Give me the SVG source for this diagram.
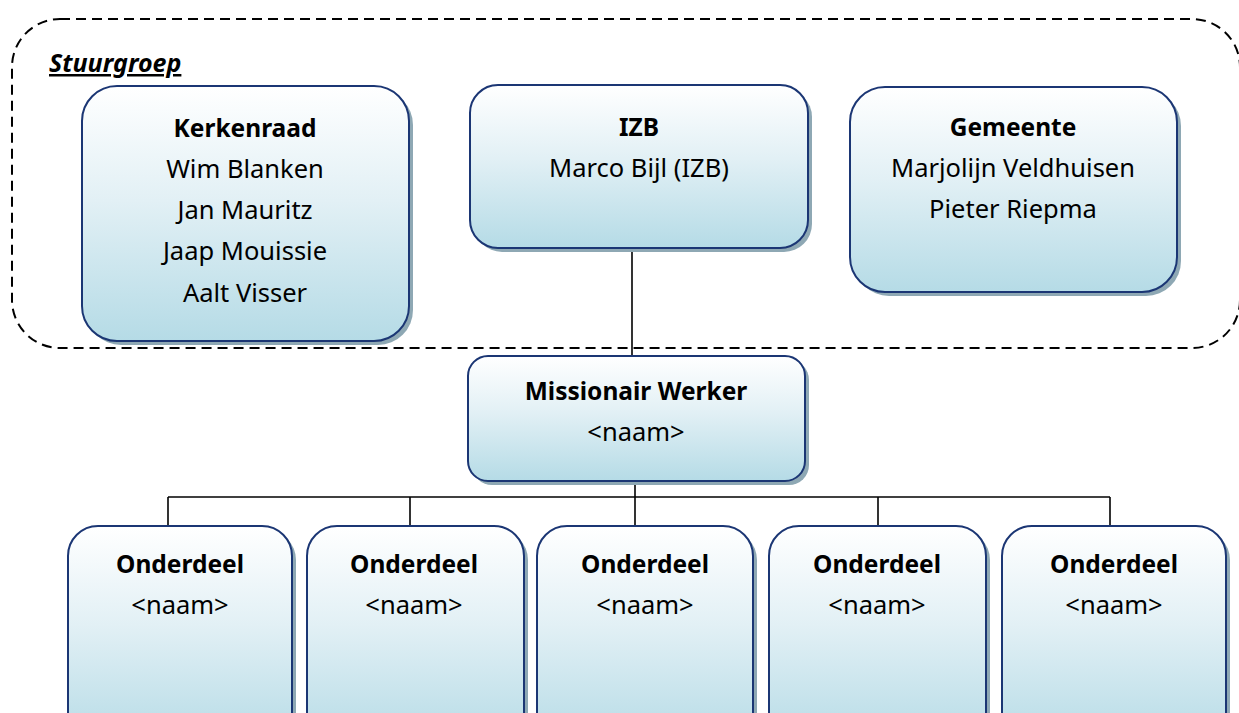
<svg xmlns="http://www.w3.org/2000/svg" width="1239" height="713" viewBox="0 0 1239 713">
<defs>
<linearGradient id="g" x1="0" y1="0" x2="0" y2="1">
<stop offset="0" stop-color="#ffffff"/>
<stop offset="0.45" stop-color="#e2f0f5"/>
<stop offset="1" stop-color="#b5dbe6"/>
</linearGradient>
<style>
.box{fill:url(#g);stroke:#1b3674;stroke-width:2}
.sh{fill:#8ea8b4}
.t{font-family:"Noto Sans","Open Sans",sans-serif;font-size:25.5px;fill:#000;text-anchor:middle}
.b{font-weight:bold;font-size:24.5px}
.ln{stroke:#000;stroke-width:1.6;fill:none}
</style>
</defs>
<rect x="12" y="19" width="1228" height="329" rx="48" fill="none" stroke="#000" stroke-width="2" stroke-dasharray="10,6"/>
<text x="49" y="72" font-family="Noto Sans, sans-serif" font-size="25" font-weight="bold" font-style="italic" text-decoration="underline">Stuurgroep</text>
<g id="connectors">
<line class="ln" x1="632" y1="248" x2="632" y2="356"/>
<line class="ln" x1="635" y1="462" x2="635" y2="526"/>
<line class="ln" x1="168" y1="497" x2="1110" y2="497"/>
<line class="ln" x1="168" y1="497" x2="168" y2="526"/>
<line class="ln" x1="410" y1="497" x2="410" y2="526"/>
<line class="ln" x1="878" y1="497" x2="878" y2="526"/>
<line class="ln" x1="1110" y1="497" x2="1110" y2="526"/>
</g>
<g id="kerkenraad">
<rect class="sh" x="86" y="90" width="327" height="255" rx="35"/>
<rect class="box" x="82" y="86" width="327" height="255" rx="35"/>
<text class="t b" x="245" y="137">Kerkenraad</text>
<text class="t" x="245" y="178">Wim Blanken</text>
<text class="t" x="245" y="219">Jan Mauritz</text>
<text class="t" x="245" y="260">Jaap Mouissie</text>
<text class="t" x="245" y="302">Aalt Visser</text>
</g>
<g id="izb">
<rect class="sh" x="474" y="89" width="338" height="163" rx="28"/>
<rect class="box" x="470" y="85" width="338" height="163" rx="28"/>
<text class="t b" x="639" y="136">IZB</text>
<text class="t" x="639" y="177">Marco Bijl (IZB)</text>
</g>
<g id="gemeente">
<rect class="sh" x="854" y="91" width="327" height="205" rx="35"/>
<rect class="box" x="850" y="87" width="327" height="205" rx="35"/>
<text class="t b" x="1013" y="136">Gemeente</text>
<text class="t" x="1013" y="177">Marjolijn Veldhuisen</text>
<text class="t" x="1013" y="218">Pieter Riepma</text>
</g>
<g id="missionair">
<rect class="sh" x="472" y="360" width="337" height="125" rx="20"/>
<rect class="box" x="468" y="356" width="337" height="125" rx="20"/>
<text class="t b" x="636" y="400">Missionair Werker</text>
<text class="t" x="636" y="441">&lt;naam&gt;</text>
</g>
<g id="onderdeel1">
<rect class="sh" x="72" y="530" width="224" height="220" rx="30"/>
<rect class="box" x="68" y="526" width="224" height="220" rx="30"/>
<text class="t b" x="180" y="573">Onderdeel</text>
<text class="t" x="180" y="614">&lt;naam&gt;</text>
</g>
<g id="onderdeel2">
<rect class="sh" x="311" y="530" width="217" height="220" rx="30"/>
<rect class="box" x="307" y="526" width="217" height="220" rx="30"/>
<text class="t b" x="414" y="573">Onderdeel</text>
<text class="t" x="414" y="614">&lt;naam&gt;</text>
</g>
<g id="onderdeel3">
<rect class="sh" x="541" y="530" width="216" height="220" rx="30"/>
<rect class="box" x="537" y="526" width="216" height="220" rx="30"/>
<text class="t b" x="645" y="573">Onderdeel</text>
<text class="t" x="645" y="614">&lt;naam&gt;</text>
</g>
<g id="onderdeel4">
<rect class="sh" x="773" y="530" width="217" height="220" rx="30"/>
<rect class="box" x="769" y="526" width="217" height="220" rx="30"/>
<text class="t b" x="877" y="573">Onderdeel</text>
<text class="t" x="877" y="614">&lt;naam&gt;</text>
</g>
<g id="onderdeel5">
<rect class="sh" x="1006" y="530" width="224" height="220" rx="30"/>
<rect class="box" x="1002" y="526" width="224" height="220" rx="30"/>
<text class="t b" x="1114" y="573">Onderdeel</text>
<text class="t" x="1114" y="614">&lt;naam&gt;</text>
</g>
</svg>
